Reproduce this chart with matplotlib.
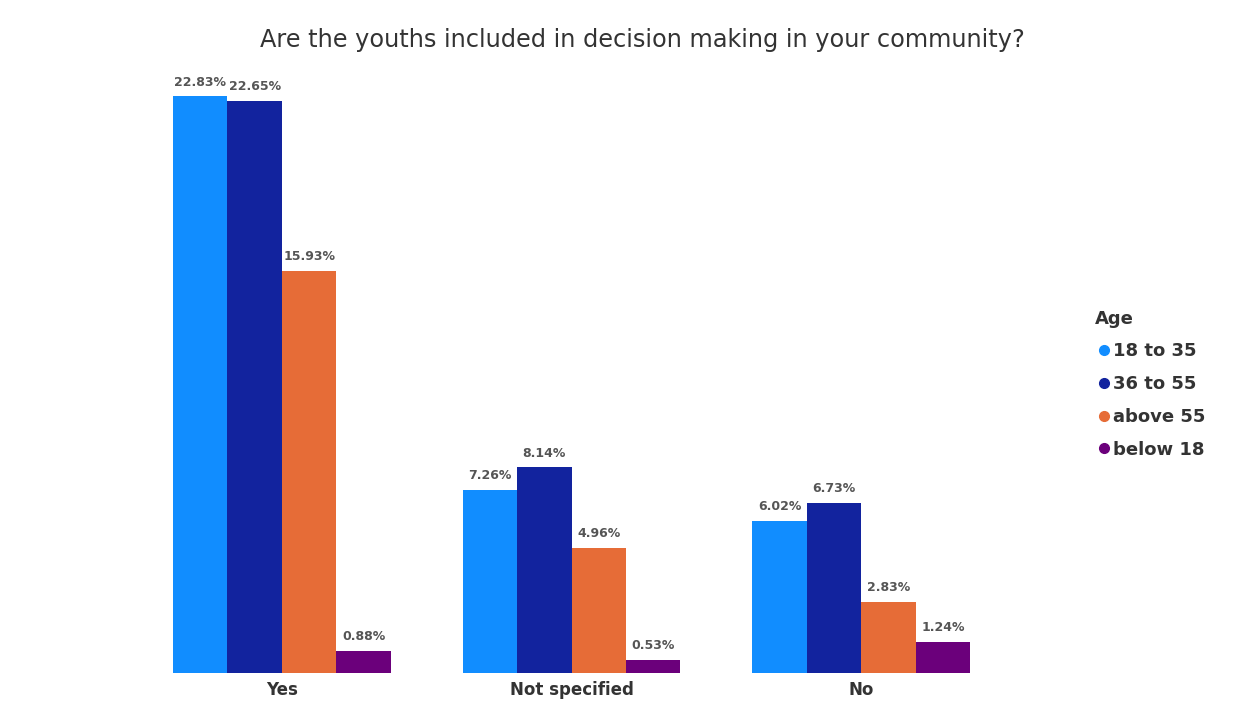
import matplotlib.pyplot as plt
import numpy as np
from matplotlib.lines import Line2D

categories = ['Yes', 'Not specified', 'No']
ages = ['18 to 35', '36 to 55', 'above 55', 'below 18']
values = {
    '18 to 35': [22.83, 7.26, 6.02],
    '36 to 55': [22.65, 8.14, 6.73],
    'above 55': [15.93, 4.96, 2.83],
    'below 18': [0.88, 0.53, 1.24],
}
colors = ['#118DFF', '#12239E', '#E66C37', '#6B007B']

fig = plt.figure(figsize=(12.53, 7.08), dpi=100)
ax = fig.add_axes([0.1094, 0.0494, 0.6935, 0.8376])

x = np.arange(len(categories))
w = 0.188
for i, age in enumerate(ages):
    pos = x + (i - 1.5) * w
    bars = ax.bar(pos, values[age], width=w, color=colors[i], linewidth=0)
    for b, v in zip(bars, values[age]):
        ax.text(b.get_x() + b.get_width() / 2, v + 0.3, f'{v:.2f}%',
                ha='center', va='bottom', fontsize=9, color='#555555',
                fontweight='semibold')

ax.set_xlim(-0.5, 2.5)
ax.set_ylim(0, 23.47)
ax.set_xticks(x)
ax.set_xticklabels(categories, fontsize=12, color='#333333', fontweight='semibold')
ax.tick_params(axis='x', length=0, pad=6)
ax.set_yticks([])
for s in ax.spines.values():
    s.set_visible(False)

fig.text(0.513, 0.943, 'Are the youths included in decision making in your community?',
         ha='center', va='center', fontsize=17.3, color='#333333')

handles = [Line2D([], [], marker='o', linestyle='', markersize=7, color=c) for c in colors]
leg = fig.legend(handles, ages, title='Age', loc='upper left', bbox_to_anchor=(0.868, 0.573),
                 frameon=False, fontsize=13, title_fontsize=13, handletextpad=0.0,
                 labelspacing=0.82, handlelength=1.0, borderaxespad=0)
leg._legend_box.align = 'left'
leg.get_title().set_fontweight('semibold')
leg.get_title().set_color('#333333')
for t in leg.get_texts():
    t.set_color('#333333')
    t.set_fontweight('semibold')

fig.savefig('out.png', dpi=100)
